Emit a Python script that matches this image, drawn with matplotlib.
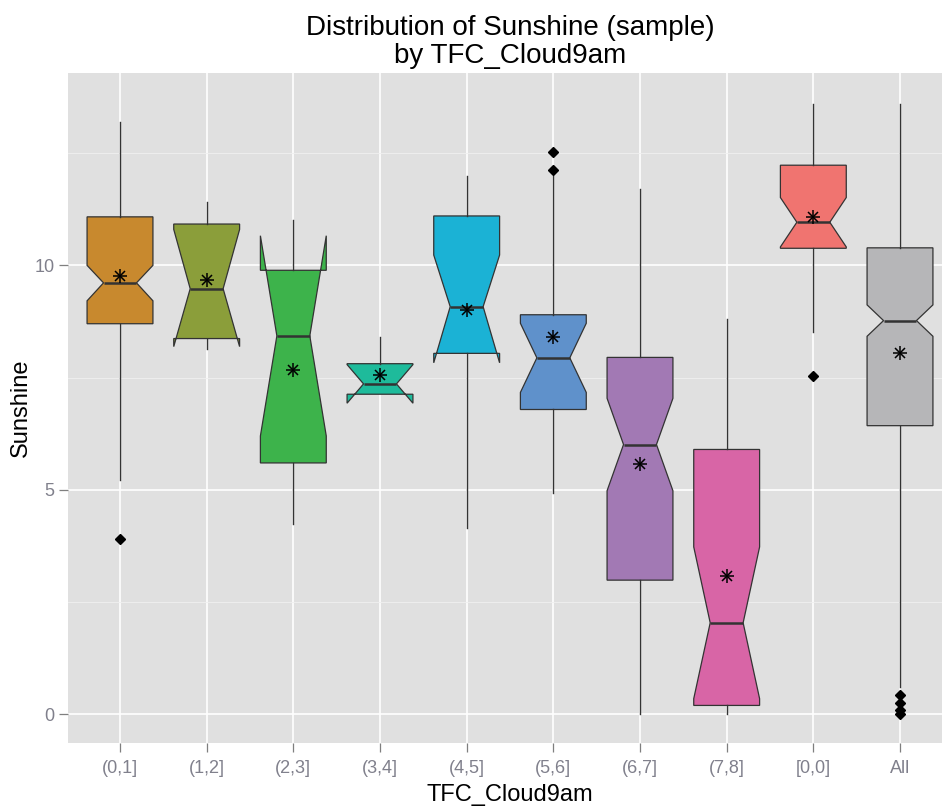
import matplotlib
matplotlib.use("Agg")
import matplotlib.pyplot as plt
from matplotlib.ticker import MultipleLocator

plt.rcParams['font.family'] = ['Liberation Sans', 'DejaVu Sans']

# Cloud-cover groups and the summary statistics of Sunshine in each one
categories = ["(0,1]", "(1,2]", "(2,3]", "(3,4]", "(4,5]",
              "(5,6]", "(6,7]", "(7,8]", "[0,0]", "All"]
whisker_low = [5.22, 8.14, 4.24, 7.13, 4.14, 4.94, 0.00, 0.00, 8.52, 0.62]
lower_quartile = [8.70, 8.37, 5.60, 7.13, 8.04, 6.79, 2.99, 0.20, 10.38, 6.43]
median = [9.61, 9.48, 8.43, 7.36, 9.08, 7.94, 6.01, 2.04, 10.96, 8.77]
upper_quartile = [11.08, 10.92, 9.89, 7.81, 11.10, 8.90, 7.95, 5.90, 12.23, 10.39]
whisker_high = [13.20, 11.42, 11.02, 8.41, 12.00, 12.00, 11.71, 8.81, 13.59, 13.59]
notch_low = [9.21, 8.19, 6.20, 6.93, 7.83, 7.17, 4.98, 0.35, 10.41, 8.42]
notch_high = [10.00, 10.80, 10.66, 7.79, 10.23, 8.71, 7.04, 3.73, 11.51, 9.12]
mean = [9.76, 9.67, 7.68, 7.55, 9.00, 8.41, 5.57, 3.09, 11.08, 8.05]
outliers = [[3.90], [], [], [], [], [12.12, 12.52], [], [], [7.53],
            [0.00, 0.10, 0.25, 0.43]]
fill_colors = ["#C8892E", "#8B9E3A", "#3DB34B", "#1EBB9B", "#1BB2D5",
               "#5F91CB", "#A279B4", "#D865A6", "#F07470", "#B6B6B8"]

stats = []
for i, name in enumerate(categories):
    stats.append(dict(label=name, whislo=whisker_low[i], q1=lower_quartile[i],
                      med=median[i], q3=upper_quartile[i], whishi=whisker_high[i],
                      cilo=notch_low[i], cihi=notch_high[i], fliers=outliers[i]))

fig = plt.figure(figsize=(9.42, 8.06), dpi=100)
W, H = 942, 806
left, right, top, bottom = 68, 952, 72.7, 742.7
ax = fig.add_axes([left / W, 1 - bottom / H, (right - left) / W, (bottom - top) / H])
ax.set_facecolor("#E0E0E0")

positions = list(range(1, len(categories) + 1))
edge = "#333333"
art = ax.bxp(stats, positions=positions, widths=0.76, shownotches=True,
             showcaps=False, patch_artist=True,
             boxprops=dict(edgecolor=edge, linewidth=0.9),
             whiskerprops=dict(color=edge, linewidth=1.0),
             medianprops=dict(color=edge, linewidth=1.8),
             flierprops=dict(marker="D", markersize=5.5, markerfacecolor="black",
                             markeredgecolor="black"),
             zorder=3)
for patch, c in zip(art["boxes"], fill_colors):
    patch.set_facecolor(c)

# group means drawn as asterisks
ax.plot(positions, mean, linestyle="none", marker="+", markersize=10,
        markeredgewidth=1.1, color="black", zorder=5)
ax.plot(positions, mean, linestyle="none", marker="x", markersize=7,
        markeredgewidth=1.1, color="black", zorder=5)

ax.set_xlim(0.4, 10.6)
ax.set_ylim(-0.63, 14.29)
ax.yaxis.set_major_locator(MultipleLocator(5))
ax.yaxis.set_minor_locator(MultipleLocator(2.5))
ax.set_xticks(positions)
ax.set_xticklabels(categories)

ax.grid(which="major", color="white", linewidth=1.2, zorder=0)
ax.grid(which="minor", axis="y", color="#F0F0F0", linewidth=0.6, zorder=0)
ax.set_axisbelow(True)
for s in ax.spines.values():
    s.set_visible(False)

tick_color = "#80808C"
ax.tick_params(axis="both", which="major", length=6.5, width=0.9, color="#7F7F7F",
               labelcolor=tick_color, labelsize=13, pad=3)
ax.tick_params(axis="x", which="major", pad=6)
ax.tick_params(axis="y", which="minor", length=0)

ax.set_xlabel("TFC_Cloud9am", fontsize=17, color="black")
ax.set_ylabel("Sunshine", fontsize=17, color="black")
ax.xaxis.set_label_coords(0.5, -0.061)
ax.yaxis.set_label_coords(-0.041, 0.5)

fig.text((left + right) / 2 / W, 1 - 15 / H,
         "Distribution of Sunshine (sample)\nby TFC_Cloud9am",
         ha="center", va="top", fontsize=20, linespacing=1.1)

fig.savefig("out.png", dpi=100)
